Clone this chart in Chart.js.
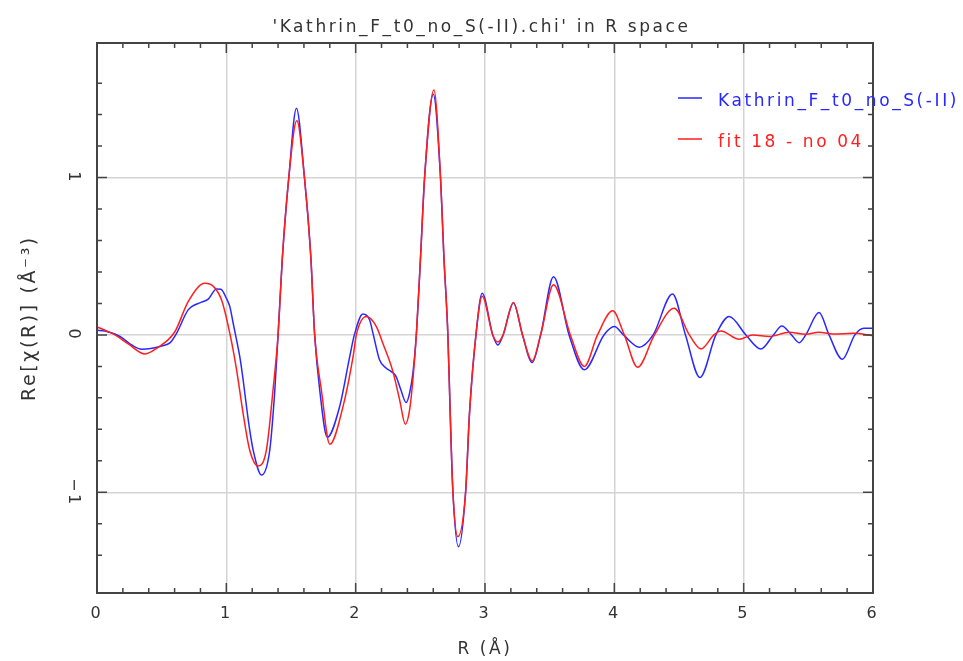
<!DOCTYPE html>
<html>
<head>
<meta charset="utf-8">
<script src="https://cdn.jsdelivr.net/npm/chart.js@4.4.1/dist/chart.umd.min.js"></script>
<style>
  html, body { margin: 0; padding: 0; background: #fff; }
  #chi_r { display: block; }
</style>
</head>
<body>
<canvas id="chi_r" width="963" height="661"></canvas>
<script>
const dataLabel = "Kathrin_F_t0_no_S(-II)";
const fitLabel = "fit 18 - no 04";

// data curve, R (Å) and Re[chi(R)]
const dataR = [0.00, 0.062, 0.178, 0.268, 0.345, 0.50, 0.566, 0.615, 0.705, 0.808, 0.86, 0.924, 0.958, 1.00, 1.027, 1.053, 1.079, 1.104, 1.13, 1.156, 1.18, 1.207, 1.272, 1.336, 1.375, 1.40, 1.434, 1.483, 1.542, 1.604, 1.653, 1.683, 1.722, 1.781, 1.876, 1.954, 1.99, 2.056, 2.108, 2.134, 2.185, 2.237, 2.275, 2.31, 2.35, 2.39, 2.417, 2.443, 2.469, 2.502, 2.533, 2.60, 2.656, 2.682, 2.713, 2.731, 2.752, 2.795, 2.85, 2.88, 2.93, 2.978, 3.06, 3.10, 3.14, 3.22, 3.29, 3.365, 3.43, 3.53, 3.65, 3.768, 3.92, 4.00, 4.07, 4.193, 4.30, 4.45, 4.55, 4.662, 4.785, 4.888, 5.017, 5.133, 5.23, 5.295, 5.37, 5.429, 5.48, 5.583, 5.66, 5.763, 5.86, 5.93, 6.00];
const dataChi = [0.03, 0.025, -0.01, -0.064, -0.091, -0.07, -0.049, 0.01, 0.159, 0.208, 0.227, 0.292, 0.29, 0.233, 0.18, 0.074, -0.032, -0.138, -0.286, -0.456, -0.6, -0.73, -0.89, -0.73, -0.35, 0.0, 0.5, 1.0, 1.44, 1.0, 0.5, 0.0, -0.35, -0.65, -0.456, -0.138, 0.0, 0.133, 0.095, 0.01, -0.16, -0.212, -0.233, -0.26, -0.35, -0.43, -0.37, -0.24, 0.0, 0.5, 1.0, 1.53, 1.0, 0.5, 0.0, -0.5, -1.0, -1.346, -1.0, -0.5, 0.0, 0.265, 0.0, -0.064, 0.0, 0.205, 0.0, -0.176, 0.0, 0.37, 0.0, -0.222, 0.0, 0.053, 0.0, -0.078, 0.0, 0.26, 0.0, -0.271, 0.0, 0.117, 0.0, -0.089, 0.0, 0.057, 0.0, -0.049, 0.0, 0.142, 0.0, -0.155, 0.0, 0.042, 0.042];

// fit curve
const fitR = [0.00, 0.062, 0.139, 0.242, 0.371, 0.461, 0.602, 0.705, 0.834, 0.898, 0.963, 1.027, 1.079, 1.13, 1.18, 1.246, 1.31, 1.361, 1.40, 1.434, 1.483, 1.545, 1.604, 1.653, 1.683, 1.735, 1.80, 1.902, 1.98, 2.005, 2.083, 2.16, 2.21, 2.288, 2.34, 2.384, 2.417, 2.443, 2.469, 2.502, 2.533, 2.605, 2.656, 2.682, 2.713, 2.731, 2.752, 2.79, 2.85, 2.88, 2.93, 2.978, 3.06, 3.10, 3.14, 3.22, 3.29, 3.365, 3.43, 3.53, 3.66, 3.768, 3.87, 3.987, 4.077, 4.18, 4.31, 4.463, 4.58, 4.67, 4.77, 4.824, 4.965, 5.07, 5.2, 5.351, 5.48, 5.58, 5.69, 5.85, 6.00];
const fitChi = [0.05, 0.03, 0.0, -0.057, -0.121, -0.085, 0.02, 0.212, 0.328, 0.31, 0.222, 0.01, -0.22, -0.5, -0.73, -0.833, -0.73, -0.35, 0.0, 0.5, 1.0, 1.362, 1.0, 0.5, 0.0, -0.35, -0.695, -0.456, -0.138, 0.0, 0.117, 0.053, -0.053, -0.233, -0.413, -0.568, -0.477, -0.28, 0.0, 0.5, 1.0, 1.557, 1.0, 0.5, 0.0, -0.5, -1.0, -1.282, -1.0, -0.5, 0.0, 0.245, 0.0, -0.045, 0.0, 0.205, 0.0, -0.165, 0.0, 0.318, 0.0, -0.2, 0.0, 0.153, 0.0, -0.205, 0.0, 0.17, 0.0, -0.089, 0.0, 0.025, -0.028, 0.0, -0.01, 0.017, 0.004, 0.017, 0.006, 0.01, -0.005];

const xTicks = [0, 1, 2, 3, 4, 5, 6];
const yTicks = [-1, 0, 1];

const FONT = "'DejaVu Sans', sans-serif";
const TEXT = "#333";
const FRAME = "#444";

const isMult = (v, step) => Math.abs(v / step - Math.round(v / step)) < 1e-6;
const isMajor = (v, list) => list.some((t) => Math.abs(v - t) < 1e-6);

const toPoints = (xs, ys) => xs.map((x, i) => ({ x, y: ys[i] }));

// the original plot font is wide, spread the letters a bit
const spacingPlugin = {
  id: "spacing",
  beforeDraw(chart) {
    chart.ctx.letterSpacing = "2.6px";
  },
};

// frame, inward tick marks and the in-plot legend
const framePlugin = {
  id: "frame",
  afterDraw(chart) {
    const { ctx, chartArea: a, scales } = chart;
    ctx.save();
    ctx.strokeStyle = FRAME;
    ctx.lineWidth = 1.5;

    scales.x.ticks.forEach((t) => {
      if (!isMult(t.value, 0.2)) return;
      const px = scales.x.getPixelForValue(t.value);
      const len = isMajor(t.value, xTicks) ? 10 : 5;
      ctx.beginPath();
      ctx.moveTo(px, a.bottom);
      ctx.lineTo(px, a.bottom - len);
      ctx.moveTo(px, a.top);
      ctx.lineTo(px, a.top + len);
      ctx.stroke();
    });
    scales.y.ticks.forEach((t) => {
      if (!isMult(t.value, 0.2)) return;
      const py = scales.y.getPixelForValue(t.value);
      const len = isMajor(t.value, yTicks) ? 10 : 5;
      ctx.beginPath();
      ctx.moveTo(a.left, py);
      ctx.lineTo(a.left + len, py);
      ctx.moveTo(a.right, py);
      ctx.lineTo(a.right - len, py);
      ctx.stroke();
    });

    ctx.lineWidth = 2;
    ctx.strokeRect(a.left, a.top, a.right - a.left, a.bottom - a.top);

    // legend
    ctx.font = "17px " + FONT;
    ctx.letterSpacing = "2.6px";
    ctx.textBaseline = "middle";
    ctx.textAlign = "left";
    chart.data.datasets.forEach((ds, i) => {
      const y = 98 + i * 41;
      ctx.strokeStyle = ds.borderColor;
      ctx.lineWidth = 1.5;
      ctx.beginPath();
      ctx.moveTo(678, y);
      ctx.lineTo(702, y);
      ctx.stroke();
      ctx.fillStyle = ds.borderColor;
      ctx.fillText(ds.label, 718, y + 4);
    });
    ctx.restore();
  },
};

new Chart(document.getElementById("chi_r"), {
  type: "line",
  data: {
    datasets: [
      {
        label: dataLabel,
        data: toPoints(dataR, dataChi),
        borderColor: "rgb(40, 40, 255)",
        borderWidth: 1.5,
        pointRadius: 0,
        cubicInterpolationMode: "monotone",
        order: 2,
      },
      {
        label: fitLabel,
        data: toPoints(fitR, fitChi),
        borderColor: "rgb(255, 30, 30)",
        borderWidth: 1.5,
        pointRadius: 0,
        cubicInterpolationMode: "monotone",
        order: 1,
      },
    ],
  },
  options: {
    responsive: false,
    animation: false,
    scales: {
      x: {
        type: "linear",
        min: 0,
        max: 6,
        afterFit: (scale) => { scale.height = 68; },
        border: { display: false },
        grid: {
          drawTicks: false,
          lineWidth: 1.5,
          color: (c) => isMajor(c.tick.value, xTicks) ? "#d4d4d4" : "rgba(0,0,0,0)",
        },
        ticks: {
          stepSize: 0.2,
          autoSkip: false,
          maxRotation: 0,
          padding: 11,
          color: TEXT,
          font: { family: FONT, size: 16 },
          callback: (v) => (isMajor(v, xTicks) ? String(Math.round(v)) : ""),
        },
        title: {
          display: true,
          text: "R (Å)",
          color: TEXT,
          font: { family: FONT, size: 17 },
          padding: { top: 0, bottom: 1 },
        },
      },
      y: {
        min: -1.64,
        max: 1.855,
        afterFit: (scale) => { scale.width = 97; },
        border: { display: false },
        grid: {
          drawTicks: false,
          lineWidth: 1.5,
          color: (c) => isMajor(c.tick.value, yTicks) ? "#d4d4d4" : "rgba(0,0,0,0)",
        },
        ticks: {
          stepSize: 0.2,
          autoSkip: false,
          minRotation: -90,
          maxRotation: -90,
          crossAlign: "center",
          padding: 12,
          color: TEXT,
          font: { family: FONT, size: 16 },
          callback: (v) => {
            if (!isMajor(v, yTicks)) return "";
            const n = Math.round(v);
            return n < 0 ? "\u2212" + Math.abs(n) : String(n);
          },
        },
        title: {
          display: true,
          text: "Re[\u03c7(R)] (Å\u207b\u00b3)",
          color: TEXT,
          font: { family: FONT, size: 19 },
          padding: { top: 19, bottom: 0 },
        },
      },
      // empty right-hand box, keeps the page wide margin of the original
      yRight: {
        position: "right",
        display: true,
        afterFit: (scale) => { scale.width = 90; },
        border: { display: false },
        grid: { display: false, drawTicks: false },
        ticks: { display: false },
      },
    },
    plugins: {
      legend: { display: false },
      tooltip: { enabled: false },
      title: {
        display: true,
        text: "'Kathrin_F_t0_no_S(-II).chi' in R space",
        color: TEXT,
        font: { family: FONT, size: 17, weight: "normal", lineHeight: 1.2 },
        padding: { top: 17, bottom: 5.6 },
      },
    },
  },
  plugins: [spacingPlugin, framePlugin],
});
</script>
</body>
</html>
